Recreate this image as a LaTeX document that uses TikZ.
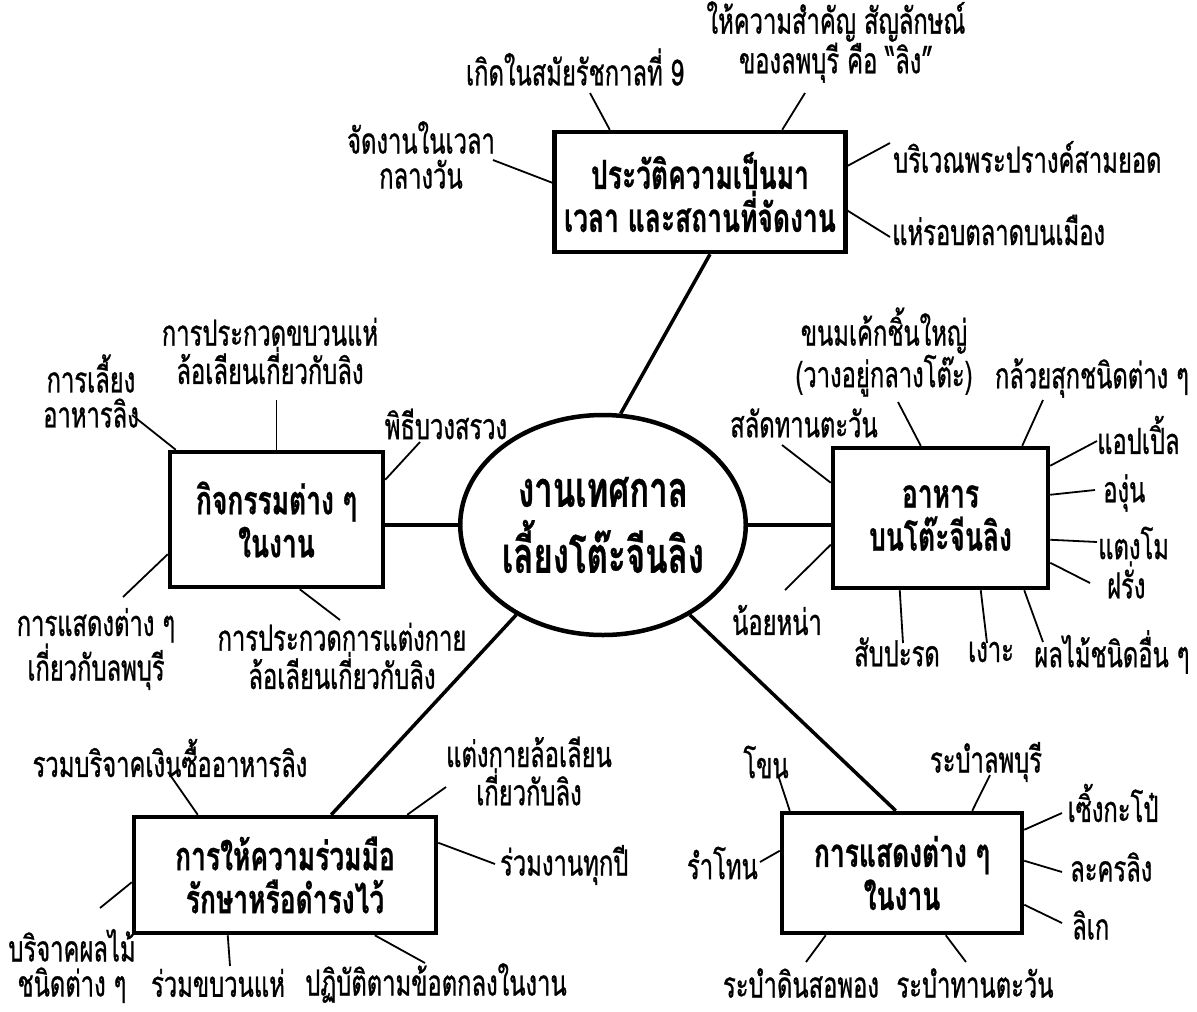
\documentclass[tikz,border=0pt]{standalone}
\usepackage{fontspec}
\setmainfont[Script=Thai,FakeStretch=0.66]{Loma}
\newfontfamily\lblfont[Script=Thai,FakeStretch=0.66,FakeBold=0.8]{Loma}
\newfontfamily\boxfont[Script=Thai,FakeStretch=0.66,BoldFeatures={FakeBold=0.6}]{Loma}
\usetikzlibrary{shapes.geometric}
\tikzset{
  box/.style  ={draw, line width=4.5pt, inner sep=0pt, align=center, font=\boxfont\bfseries\fontsize{40}{43}\selectfont},
  hub/.style  ={draw, ellipse, line width=4.5pt, inner sep=0pt, minimum width=256pt, minimum height=220pt,
                align=center, font=\boxfont\bfseries\fontsize{50}{66}\selectfont},
  lbl/.style  ={inner sep=0pt, align=center, font=\lblfont\fontsize{36}{35}\selectfont},
  spoke/.style={line width=3.5pt},
  leaf/.style ={line width=1.8pt}
}

\begin{document}
\begin{tikzpicture}[x=1pt,y=-1pt]
\path[fill=white,use as bounding box] (0,0) rectangle (1197,1012);

\node[hub] (hub) at (603,525) {งานเทศกาล\\เลี้ยงโต๊ะจีนลิง};
\node[box, minimum width=291pt, minimum height=120pt] (hist) at (700,192) {ประวัติความเป็นมา\\เวลา และสถานที่จัดงาน};
\node[box, minimum width=213pt, minimum height=135pt] (act)  at (276.5,519.5) {กิจกรรมต่าง ๆ\\ในงาน};
\node[box, minimum width=215pt, minimum height=140pt] (food) at (940.5,518) {อาหาร\\บนโต๊ะจีนลิง};
\node[box, minimum width=302pt, minimum height=116pt] (coop) at (285,875) {การให้ความร่วมมือ\\รักษาหรือดำรงไว้};
\node[box, minimum width=240pt, minimum height=120pt] (show) at (902,873) {การแสดงต่าง ๆ\\ในงาน};

\draw[spoke] (hist.south) ++(10,0) -- (hub.81);
\draw[spoke] (hub.west) -- (hub.west -| act.east);
\draw[spoke] (hub.east) -- (hub.east -| food.west);
\draw[spoke] (coop.north east) ++(-107,0) -- (hub.226);
\draw[spoke] (show.north west) ++(116,0) -- (hub.314);

\node[lbl] (h1) at (575,67) {เกิดในสมัยรัชกาลที่ 9};
\node[lbl] (h2) at (836,42) {ให้ความสำคัญ สัญลักษณ์\\ของลพบุรี คือ “ลิง”};
\node[lbl] (h3) at (421,155) {จัดงานในเวลา\\กลางวัน};
\node[lbl, anchor=west] (h4) at (893,157) {บริเวณพระปรางค์สามยอด};
\node[lbl, anchor=west] (h5) at (892,230) {แห่รอบตลาดบนเมือง};
\coordinate (h1e) at (590,93);
\coordinate (h2e) at (805,93);
\coordinate (h3e) at (493,160);
\coordinate (h4e) at (890,143);
\coordinate (h5e) at (890,237);
\draw[leaf] (hist.north west) ++(57.5,0) -- (h1e);
\draw[leaf] (hist.north east) ++(-65.5,0) -- (h2e);
\draw[leaf] (hist.north west) ++(0,53) -- (h3e);
\draw[leaf] (hist.north east) ++(0,36) -- (h4e);
\draw[leaf] (hist.north east) ++(0,81) -- (h5e);

\node[lbl] (a1) at (270,351) {การประกวดขบวนแห่\\ล้อเลียนเกี่ยวกับลิง};
\node[lbl] (a2) at (91,391) {การเลี้ยง\\อาหารลิง};
\node[lbl] (a3) at (446,424) {พิธีบวงสรวง};
\node[lbl] (a4) at (96,649) {การแสดงต่าง ๆ\\เกี่ยวกับลพบุรี};
\node[lbl] (a5) at (342,656) {การประกวดการแต่งกาย\\ล้อเลียนเกี่ยวกับลิง};
\coordinate (a1e) at (276.5,400);
\coordinate (a2e) at (132,415);
\coordinate (a3e) at (420,442);
\coordinate (a4e) at (123,597);
\coordinate (a5e) at (340,620);
\draw[leaf] (act.north) -- (a1e);
\draw[leaf] (act.north west) ++(8,0) -- (a2e);
\draw[leaf] (act.north east) ++(0,30) -- (a3e);
\draw[leaf] (act.south west) ++(0,-35) -- (a4e);
\draw[leaf] (act.south west) ++(132,0) -- (a5e);

\node[lbl] (f1) at (884,352) {ขนมเค้กชิ้นใหญ่\\(วางอยู่กลางโต๊ะ)};
\node[lbl] (f2) at (1092,378) {กล้วยสุกชนิดต่าง ๆ};
\node[lbl] (f3) at (804,423) {สลัดทานตะวัน};
\node[lbl, anchor=west] (f4) at (1097,435) {แอปเปิ้ล};
\node[lbl, anchor=west] (f5) at (1103,493) {องุ่น};
\node[lbl, anchor=west] (f6) at (1098,543) {แตงโม};
\node[lbl, anchor=west] (f7) at (1107,580) {ฝรั่ง};
\node[lbl] (f8) at (777,620) {น้อยหน่า};
\node[lbl] (f9) at (897,652) {สับปะรด};
\node[lbl] (f10) at (991,652) {เงาะ};
\node[lbl] (f11) at (1112,652) {ผลไม้ชนิดอื่น ๆ};
\coordinate (f1e) at (898,402);
\coordinate (f2e) at (1043,400);
\coordinate (f3e) at (782,445);
\coordinate (f4e) at (1097,441);
\coordinate (f5e) at (1095,490);
\coordinate (f6e) at (1097,542);
\coordinate (f7e) at (1090,583);
\coordinate (f8e) at (785,590);
\coordinate (f9e) at (903,643);
\coordinate (f10e) at (987,643);
\coordinate (f11e) at (1043,642);
\draw[leaf] (food.north west) ++(90,0) -- (f1e);
\draw[leaf] (food.north east) ++(-28,0) -- (f2e);
\draw[leaf] (food.north west) ++(0,37) -- (f3e);
\draw[leaf] (food.north east) ++(0,20) -- (f4e);
\draw[leaf] (food.north east) ++(0,49) -- (f5e);
\draw[leaf] (food.north east) ++(0,94) -- (f6e);
\draw[leaf] (food.north east) ++(0,117) -- (f7e);
\draw[leaf] (food.north west) ++(0,99) -- (f8e);
\draw[leaf] (food.south west) ++(69,0) -- (f9e);
\draw[leaf] (food.south west) ++(150,0) -- (f10e);
\draw[leaf] (food.south east) ++(-26,0) -- (f11e);

\node[lbl] (c1) at (170,758) {รวมบริจาคเงินซื้ออาหารลิง};
\node[lbl] (c2) at (529,771) {แต่งกายล้อเลียน\\เกี่ยวกับลิง};
\node[lbl, anchor=west] (c3) at (500,865) {ร่วมงานทุกปี};
\node[lbl] (c4) at (72,966) {บริจาคผลไม้\\ชนิดต่าง ๆ};
\node[lbl] (c5) at (218,983) {ร่วมขบวนแห่};
\node[lbl] (c6) at (436,983) {ปฏิบัติตามข้อตกลงในงาน};
\coordinate (c1e) at (168,772);
\coordinate (c2e) at (446,787);
\coordinate (c3e) at (495,864);
\coordinate (c4e) at (100,908);
\coordinate (c5e) at (230,966);
\coordinate (c6e) at (425,963);
\draw[leaf] (coop.north west) ++(66,0) -- (c1e);
\draw[leaf] (coop.north east) ++(-31,0) -- (c2e);
\draw[leaf] (coop.north east) ++(0,28) -- (c3e);
\draw[leaf] (coop.south west) ++(0,-53) -- (c4e);
\draw[leaf] (coop.south west) ++(96,0) -- (c5e);
\draw[leaf] (coop.south west) ++(243,0) -- (c6e);

\node[lbl] (s1) at (766,762) {โขน};
\node[lbl] (s2) at (986,762) {ระบำลพบุรี};
\node[lbl] (s3) at (1113,803) {เซิ้งกะโป๋};
\node[lbl, anchor=west] (s4) at (1070,867) {ละครลิง};
\node[lbl, anchor=west] (s5) at (1072,925) {ลิเก};
\node[lbl, anchor=east] (s6) at (758,863) {รำโทน};
\node[lbl] (s7) at (801,983) {ระบำดินสอพอง};
\node[lbl] (s8) at (975,983) {ระบำทานตะวัน};
\coordinate (s1e) at (778,775);
\coordinate (s2e) at (990,775);
\coordinate (s3e) at (1062,813);
\coordinate (s4e) at (1062,872);
\coordinate (s5e) at (1062,923);
\coordinate (s6e) at (760,862);
\coordinate (s7e) at (806,962);
\coordinate (s8e) at (966,962);
\draw[leaf] (show.north west) ++(10,0) -- (s1e);
\draw[leaf] (show.north east) ++(-52,0) -- (s2e);
\draw[leaf] (show.north east) ++(0,19) -- (s3e);
\draw[leaf] (show.north east) ++(0,50) -- (s4e);
\draw[leaf] (show.north east) ++(0,94) -- (s5e);
\draw[leaf] (show.north west) ++(0,40) -- (s6e);
\draw[leaf] (show.south west) ++(46,0) -- (s7e);
\draw[leaf] (show.south west) ++(166,0) -- (s8e);
\end{tikzpicture}
\end{document}
